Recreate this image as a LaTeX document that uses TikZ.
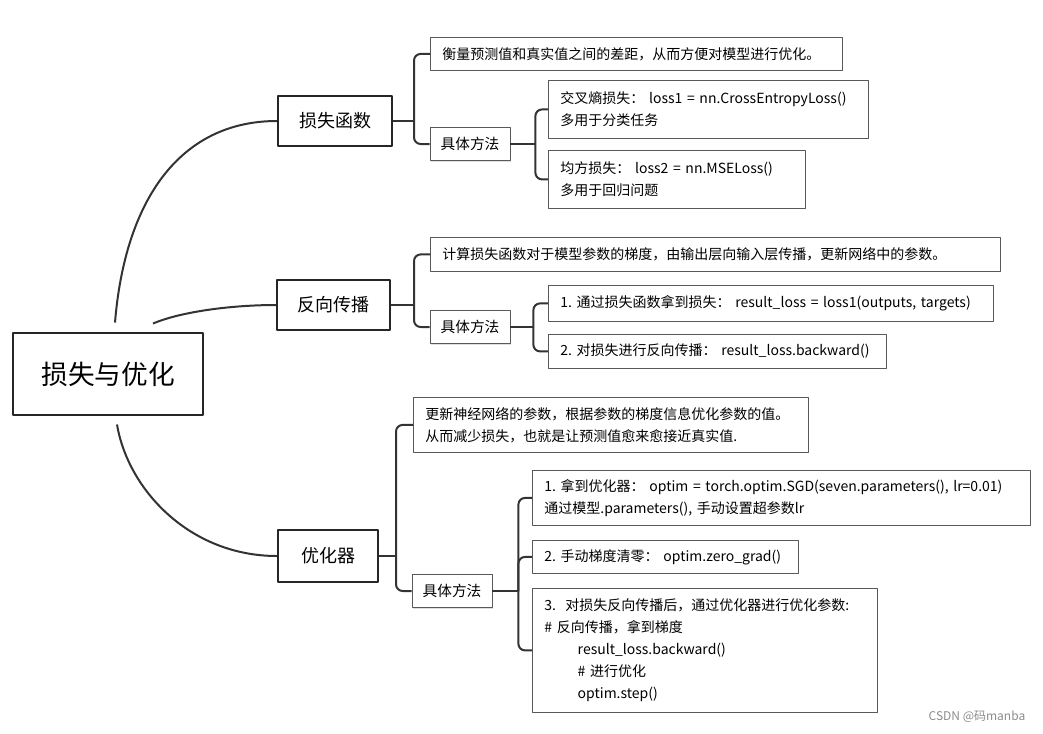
\documentclass[tikz,border=0pt]{standalone}
\usepackage{fontspec}
\setmainfont{Noto Sans CJK SC}
\frenchspacing
\usetikzlibrary{shapes,arrows,calc,shadows}
\tikzstyle{topic} = [draw=black!85, line width=1.5pt, fill=white, inner sep=0pt, font=\fontsize{13.5}{16}\selectfont]
\tikzstyle{leaf} = [draw=black!65, line width=0.6pt, fill=white, anchor=north west, inner xsep=9pt, inner ysep=0pt, align=left, font=\fontsize{10.5}{16.5}\selectfont, drop shadow={shadow xshift=0.8pt, shadow yshift=-0.8pt, opacity=0.25}]
\tikzstyle{way} = [draw=black!65, line width=0.6pt, fill=white, minimum width=60pt, minimum height=24.75pt, inner sep=0pt, font=\fontsize{11}{13}\selectfont, drop shadow={shadow xshift=0.8pt, shadow yshift=-0.8pt, opacity=0.25}]
\tikzstyle{branch} = [draw=black!80, line width=1.5pt, rounded corners=5pt]

\begin{document}
\begin{tikzpicture}[x=0.75pt,y=-0.75pt,line join=round]

\path[use as bounding box, fill=white] (0,0) rectangle (1043,733);

\node[topic, line width=1.7pt, minimum width=143pt, minimum height=62pt, font=\fontsize{20}{24}\selectfont] (root) at (108,374) {损失与优化};

\node[topic, minimum width=85.5pt, minimum height=38pt] (loss) at (335,121) {损失函数};
\node[leaf, text width=291pt, minimum height=24.75pt] (lossdef) at (430,37) {衡量预测值和真实值之间的差距，从而方便对模型进行优化。};
\node[way] (lossway) at (470,144) {具体方法};
\node[leaf, text width=222pt, minimum height=43.5pt] (ce) at (548,80) {交叉熵损失： loss1 = nn.CrossEntropyLoss()\\多用于分类任务};
\node[leaf, text width=174.75pt, minimum height=43.5pt] (mse) at (548,150) {均方损失： loss2 = nn.MSELoss()\\多用于回归问题};

\node[topic, minimum width=84.75pt, minimum height=38pt] (back) at (333.5,305) {反向传播};
\node[leaf, text width=409.5pt, minimum height=25.5pt] (backdef) at (430,237) {计算损失函数对于模型参数的梯度，由输出层向输入层传播，更新网络中的参数。};
\node[way] (backway) at (470,327) {具体方法};
\node[leaf, text width=315.75pt, minimum height=27pt] (getloss) at (548,285) {1. 通过损失函数拿到损失： result\_loss = loss1(outputs, targets)};
\node[leaf, text width=235.5pt, minimum height=25.5pt] (bwd) at (548,334) {2. 对损失进行反向传播： result\_loss.backward()};

\node[topic, minimum width=75pt, minimum height=39pt] (optim) at (328,556) {优化器};
\node[leaf, text width=278.25pt, minimum height=41.25pt] (optimdef) at (413,397) {更新神经网络的参数，根据参数的梯度信息优化参数的值。\\从而减少损失，也就是让预测值愈来愈接近真实值.};
\node[way] (optimway) at (452,591) {具体方法};
\node[leaf, text width=355.5pt, minimum height=41.25pt] (sgd) at (532,470) {1. 拿到优化器： optim = torch.optim.SGD(seven.parameters(), lr=0.01)\\通过模型.parameters(), 手动设置超参数lr};
\node[leaf, text width=181.5pt, minimum height=24.75pt] (zero) at (532,540) {2. 手动梯度清零： optim.zero\_grad()};
\node[leaf, text width=240.75pt, minimum height=93pt] (step) at (532,588) {3.\ \ 对损失反向传播后，通过优化器进行优化参数:\\\#\ 反向传播，拿到梯度\\\hspace*{25pt}result\_loss.backward()\\\hspace*{25pt}\#\ 进行优化\\\hspace*{25pt}optim.step()};

\node[font=\fontsize{9}{11}\selectfont, text=black!45, anchor=east] (mark) at (1030,717) {CSDN @码manba};

\coordinate (lossj) at ($(loss.east)+(21,0)$);
\coordinate (lossk) at ($(lossway.east)+(25,0)$);
\coordinate (backj) at ($(back.east)+(23,0)$);
\coordinate (backk) at ($(backway.east)+(23,0)$);
\coordinate (optimj) at ($(optim.east)+(17,0)$);
\coordinate (optimk) at ($(optimway.east)+(26,0)$);

\draw[branch] ([shift={(7,-9)}]root.north) .. controls (125,200) and (180,121) .. (loss.west);
\draw[branch] ([shift={(45,-8)}]root.north) .. controls (180,312) and (230,305) .. (back.west);
\draw[branch] ([shift={(9,8)}]root.south) .. controls (128,490) and (190,556) .. (optim.west);

\draw[branch] (loss.east) -- (lossj);
\draw[branch] (lossj) |- (lossdef.west);
\draw[branch] (lossj) |- (lossway.west);
\draw[branch] (lossway.east) -- (lossk);
\draw[branch] (lossk) |- (ce.west);
\draw[branch] (lossk) |- (mse.west);

\draw[branch] (back.east) -- (backj);
\draw[branch] (backj) |- (backdef.west);
\draw[branch] (backj) |- (backway.west);
\draw[branch] (backway.east) -- (backk);
\draw[branch] (backk) |- (getloss.west);
\draw[branch] (backk) |- (bwd.west);

\draw[branch] (optim.east) -- (optimj);
\draw[branch] (optimj) |- (optimdef.west);
\draw[branch] (optimj) |- (optimway.west);
\draw[branch] (optimway.east) -- (optimk);
\draw[branch] (optimk) |- (sgd.west);
\draw[branch] (optimk) |- (zero.west);
\draw[branch] (optimk) |- (step.west);
\end{tikzpicture}
\end{document}
